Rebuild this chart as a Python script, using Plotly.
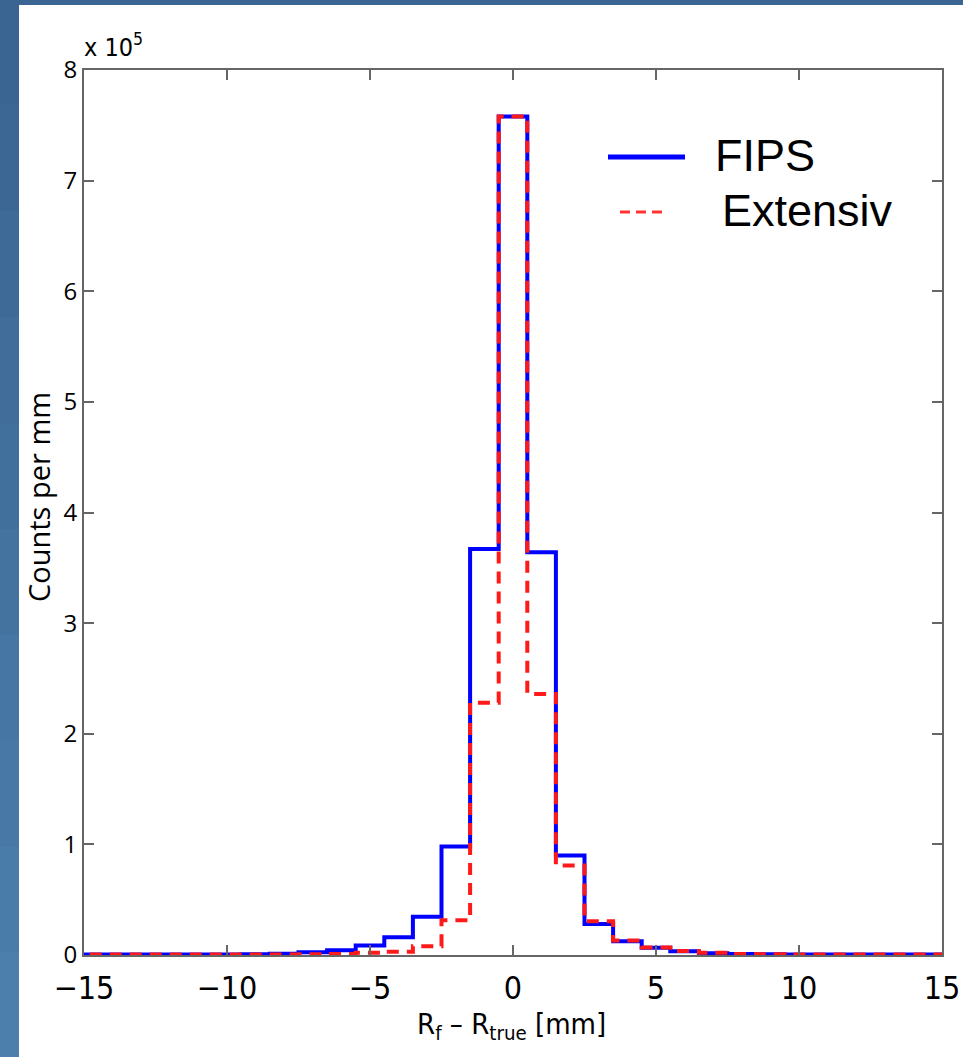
import plotly.graph_objects as go

# ---------------- data ----------------
bin_centers = list(range(-15, 16))  # mm, bin width 1 mm
# counts per mm (in units of 1e5)
fips = [0.004, 0.004, 0.004, 0.004, 0.004, 0.005, 0.006, 0.012, 0.025, 0.043,
        0.086, 0.16, 0.345, 0.98, 3.67, 7.58, 3.64, 0.90, 0.28, 0.125,
        0.065, 0.034, 0.015, 0.009, 0.006, 0.004, 0.004, 0.004, 0.004, 0.004, 0.004]
extensiv = [0.004, 0.004, 0.004, 0.004, 0.004, 0.004, 0.004, 0.004, 0.006, 0.01,
            0.02, 0.03, 0.08, 0.314, 2.28, 7.58, 2.36, 0.81, 0.305, 0.13,
            0.068, 0.036, 0.02, 0.01, 0.006, 0.004, 0.004, 0.004, 0.004, 0.004, 0.004]
scale = 1e5
y_ticks = [0, 1, 2, 3, 4, 5, 6, 7, 8]
x_ticks = [-15, -10, -5, 0, 5, 10, 15]
series_names = ["FIPS", "Extensiv"]

def steps(centers, vals):
    xs = [c - 0.5 for c in centers] + [centers[-1] + 0.5]
    ys = [v * scale for v in vals] + [vals[-1] * scale]
    return xs, ys

W, H = 963, 1057
L, R, T, B = 84, 21, 70, 102
PW, PH = W - L - R, H - T - B

def px(x):
    return (x - L) / PW

def py(y):
    return (H - B - y) / PH

fig = go.Figure()
xb, yb = steps(bin_centers, fips)
fig.add_trace(go.Scatter(x=xb, y=yb, mode="lines", line_shape="hv",
                         line=dict(color="#0000ff", width=4), name=series_names[0],
                         showlegend=False))
xr, yr = steps(bin_centers, extensiv)
fig.add_trace(go.Scatter(x=xr, y=yr, mode="lines", line_shape="hv",
                         line=dict(color="#ff1a1a", width=4, dash="12px,8px"),
                         name=series_names[1], showlegend=False))

shapes = []
# blue background border (gradient approximated with strips)
blues = ["#3a6491", "#3c6794", "#3e6a97", "#406d9a", "#42709d", "#4473a0",
         "#4676a3", "#4879a6", "#4a7ca9", "#4c7fac"]
n = len(blues)
for i, c in enumerate(blues):
    shapes.append(dict(type="rect", xref="paper", yref="paper",
                       x0=px(0), x1=px(W), y0=py(H * (i + 1) / n), y1=py(H * i / n),
                       fillcolor=c, line_width=0, layer="below"))
# white panel
shapes.append(dict(type="rect", xref="paper", yref="paper",
                   x0=px(19), x1=px(W + 5), y0=py(H + 5), y1=py(5),
                   fillcolor="white", line_width=0, layer="below"))
# legend samples
shapes.append(dict(type="line", xref="paper", yref="paper",
                   x0=px(608), x1=px(685), y0=py(157), y1=py(157),
                   line=dict(color="#0000ff", width=5)))
shapes.append(dict(type="line", xref="paper", yref="paper",
                   x0=px(620), x1=px(665), y0=py(212), y1=py(212),
                   line=dict(color="#ff3333", width=3, dash="10px,6px")))

annotations = [
    dict(text=series_names[0], xref="paper", yref="paper", x=px(713), y=py(156),
         xanchor="left", yanchor="middle", showarrow=False,
         font=dict(family="Liberation Sans, Arial", size=45, color="black")),
    dict(text=series_names[1], xref="paper", yref="paper", x=px(720), y=py(210),
         xanchor="left", yanchor="middle", showarrow=False,
         font=dict(family="Liberation Sans, Arial", size=45, color="black")),
    dict(text="x 10<sup>5</sup>", xref="paper", yref="paper", x=px(82), y=py(46),
         xanchor="left", yanchor="middle", showarrow=False,
         font=dict(family="Liberation Sans Narrow, DejaVu Sans Condensed", size=25, color="black")),
    dict(text="Counts per mm", xref="paper", yref="paper", x=px(38), y=py(497),
         xanchor="center", yanchor="middle", textangle=-90, showarrow=False,
         font=dict(family="Open Sans, DejaVu Sans", size=29, color="black")),
    dict(text="R<sub>f</sub> – R<sub>true</sub> [mm]", xref="paper", yref="paper",
         x=px(511), y=py(1026), xanchor="center", yanchor="middle", showarrow=False,
         font=dict(family="Liberation Sans Narrow, DejaVu Sans Condensed", size=29, color="black")),
]

axis_line = "#666666"
fig.update_layout(
    width=W, height=H,
    margin=dict(l=L, r=R, t=T, b=B),
    paper_bgcolor="#416f9c",
    plot_bgcolor="white",
    shapes=shapes,
    annotations=annotations,
    showlegend=False,
    xaxis=dict(range=[-15, 15], tickvals=x_ticks, automargin=False,
               ticktext=[("−" + str(abs(v))) if v < 0 else str(v) for v in x_ticks],
               showgrid=False, zeroline=False, showline=True, linecolor=axis_line,
               linewidth=2, mirror="ticks", ticks="inside", ticklen=10,
               tickcolor=axis_line, tickwidth=1.5, ticklabelstandoff=4,
               tickfont=dict(family="Liberation Sans Narrow, DejaVu Sans Condensed",
                             size=32, color="black")),
    yaxis=dict(range=[0, 8 * scale], tickvals=[v * scale for v in y_ticks], automargin=False,
               ticktext=[str(v) for v in y_ticks],
               showgrid=False, zeroline=False, showline=True, linecolor=axis_line,
               linewidth=2, mirror="ticks", ticks="inside", ticklen=10,
               tickcolor=axis_line, tickwidth=1.5,
               tickfont=dict(family="Open Sans, DejaVu Sans", size=24, color="black")),
)

fig.write_html("out.html")
